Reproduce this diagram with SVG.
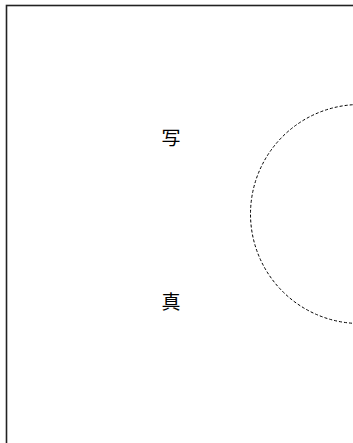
<svg xmlns="http://www.w3.org/2000/svg" width="353" height="443" viewBox="0 0 353 443">
<style>
.lbl{font-family:"Liberation Serif","Noto Sans CJK JP",serif;font-size:19px;fill:#000;text-anchor:middle;dominant-baseline:central}
</style>
<rect width="353" height="443" fill="#fff"/>
<g id="frame"><rect x="6.5" y="5.5" width="360" height="450" fill="none" stroke="#222" stroke-width="1.6"/></g>
<g id="circle"><circle cx="360" cy="214" r="109.5" fill="none" stroke="#000" stroke-width="1" stroke-dasharray="3,2"/></g>
<g id="label1"><text class="lbl" x="171" y="138">写</text></g>
<g id="label2"><text class="lbl" x="171" y="302">真</text></g>
</svg>
